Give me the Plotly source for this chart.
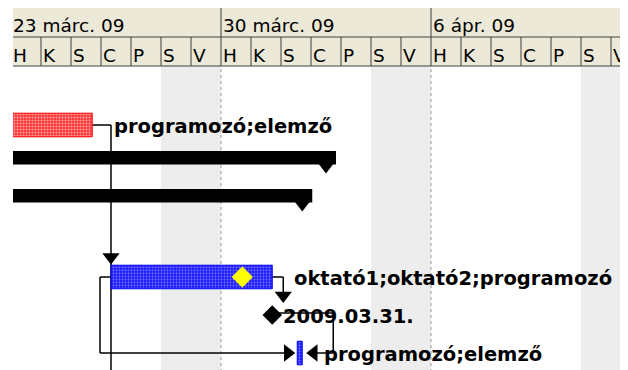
import pandas as pd
import plotly.graph_objects as go

# timescale
week_starts = ["2009-03-23", "2009-03-30", "2009-04-06"]
week_labels = ["23 márc. 09", "30 márc. 09", "6 ápr. 09"]
day_letters = ["H", "K", "S", "C", "P", "S", "V"]

# normal tasks (row 3 is empty)
task_rows = [0, 4, 6]
task_start = ["2009-03-20 08:00", "2009-03-26 08:00", "2009-04-01 13:00"]
task_finish = ["2009-03-25 17:00", "2009-03-31 17:00", "2009-04-01 17:00"]
task_colors = ["red", "blue", "blue"]
task_resources = ["programozó;elemző", "oktató1;oktató2;programozó", "programozó;elemző"]

# summary tasks
summary_rows = [1, 2]
summary_start = ["2009-03-16 08:00", "2009-03-16 08:00"]
summary_finish = ["2009-04-02 12:00", "2009-04-01 17:00"]

# milestone
milestone_row = 5
milestone_date = "2009-03-31 17:00"
milestone_label = "2009.03.31."

# yellow marker on the blue task
flag_row = 4
flag_date = "2009-03-30 17:00"

PX_DAY = 30      # pixels per day on the timescale
ROW_PX = 38      # pixels per table row
ROW0_PX = 125    # page pixel centre of row 0
OFF = 8          # default body margin of the html page
W, H = 628, 370
L, T = 13 - OFF, 0          # plot area starts at page x=13, y=8
PB = H + OFF                # page y of the plot bottom


def paper_y(p):
    return (PB - p) / (H - T)


HDR_MID = paper_y(37)
HDR_BOT = paper_y(66)


def tx(d, px=0):
    return (pd.Timestamp(d) + pd.Timedelta(days=px / PX_DAY)).strftime("%Y-%m-%d %H:%M:%S")


def ry(row, px=0):
    return row + px / ROW_PX


x_start = pd.Timestamp(week_starts[0]) + pd.Timedelta(days=2 / PX_DAY)
x_end = x_start + pd.Timedelta(days=(W - L) / PX_DAY)

fig = go.Figure()
shapes = []
annotations = []

# weekend shading + dotted week lines
days = [pd.Timestamp(w) + pd.Timedelta(days=i) for w in week_starts for i in range(7)]
for i, d in enumerate(days):
    if i % 7 == 5:
        shapes.append(dict(type="rect", xref="x", yref="paper", x0=tx(d), x1=tx(d, 2 * PX_DAY),
                           y0=0, y1=HDR_BOT, fillcolor="#ededed", line=dict(width=0), layer="below"))
for w in week_starts[1:]:
    shapes.append(dict(type="line", xref="x", yref="paper", x0=w, x1=w, y0=0, y1=HDR_BOT,
                       line=dict(color="#9a9a9a", width=1, dash="dot"), layer="below"))


def seg(x0, y0, x1, y1):
    shapes.append(dict(type="line", xref="x", yref="y", x0=x0, y0=y0, x1=x1, y1=y1,
                       line=dict(color="black", width=1.5), layer="below"))


red_end, blue_start, blue_end = task_finish[0], task_start[1], task_finish[1]
small_start, small_end = task_start[2], task_finish[2]

# link red -> blue (FS), line continues down to a task below the view
seg(tx(red_end), 0, tx(blue_start), 0)
seg(tx(blue_start), 0, tx(blue_start), 7)
# link blue -> small (SS)
seg(tx(blue_start), 4, tx(blue_start, -11), 4)
seg(tx(blue_start, -11), 4, tx(blue_start, -11), 6)
seg(tx(blue_start, -11), 6, tx(small_start, -4), 6)
# link blue -> milestone (FS)
seg(tx(blue_end), 4, tx(blue_end, 11), 4)
seg(tx(blue_end, 11), 4, tx(blue_end, 11), ry(5, -16))
# link milestone -> small (FF)
seg(tx(milestone_date), ry(5, -2), tx(small_end, 31), ry(5, -2))
seg(tx(small_end, 31), ry(5, -2), tx(small_end, 31), 6)
seg(tx(small_end, 31), 6, tx(small_end, 8), 6)

# summary bars
s_end = [tx(f, 10) for f in summary_finish]
fig.add_trace(go.Bar(
    y=summary_rows, base=summary_start, orientation="h",
    x=[(pd.Timestamp(e) - pd.Timestamp(s)).total_seconds() * 1000 for s, e in zip(summary_start, s_end)],
    offset=-12 / ROW_PX, width=13.5 / ROW_PX,
    marker=dict(color="black", line=dict(width=0)), hoverinfo="skip"))
fig.add_trace(go.Scatter(
    x=[tx(f) for f in summary_finish], y=[ry(r, 2) for r in summary_rows], mode="markers",
    marker=dict(symbol="triangle-down", size=17, color="black", line=dict(width=0)), hoverinfo="skip"))

# task bars
for color, bg, fg, sol in [("red", "#ff2020", "#ffffff", 0.5), ("blue", "#1010ff", "#c0c0ff", 0.45)]:
    idx = [i for i, c in enumerate(task_colors) if c == color]
    fig.add_trace(go.Bar(
        y=[task_rows[i] for i in idx], base=[task_start[i] for i in idx], orientation="h",
        x=[(pd.Timestamp(task_finish[i]) - pd.Timestamp(task_start[i])).total_seconds() * 1000 for i in idx],
        width=0.62,
        marker=dict(color=bg, line=dict(color=color, width=1),
                    pattern=dict(shape=".", fgcolor=fg, bgcolor=bg, size=3, solidity=sol)),
        hoverinfo="skip"))

# milestone, flag and arrowheads
fig.add_trace(go.Scatter(
    x=[tx(milestone_date)], y=[milestone_row], mode="markers",
    marker=dict(symbol="diamond", size=15, color="black"), hoverinfo="skip"))
fig.add_trace(go.Scatter(
    x=[tx(flag_date)], y=[flag_row], mode="markers",
    marker=dict(symbol="diamond", size=16, color="#ffff00", line=dict(color="#e8e800", width=0.5)),
    hoverinfo="skip"))
fig.add_trace(go.Scatter(
    x=[tx(blue_start), tx(small_start, -9.5), tx(blue_end, 11), tx(small_end, 11.5)],
    y=[ry(4, -20), 6, ry(5, -19.5), 6],
    mode="markers",
    marker=dict(symbol=["triangle-down", "triangle-right", "triangle-down", "triangle-left"],
                size=15, color="black"), hoverinfo="skip"))

# bar labels
lbl_font = dict(family="DejaVu Sans", size=19.5, color="black")
for r, f, t in zip(task_rows, task_finish, task_resources):
    annotations.append(dict(x=tx(f), y=r, xref="x", yref="y", text="<b>" + t + "</b>",
                            showarrow=False, xanchor="left", yanchor="middle",
                            xshift=20, yshift=-1, font=lbl_font))
annotations.append(dict(x=tx(milestone_date), y=milestone_row, xref="x", yref="y",
                        text="<b>" + milestone_label + "</b>", showarrow=False,
                        xanchor="left", yanchor="middle", xshift=9, yshift=-1, font=lbl_font))

# timescale header
shapes.append(dict(type="rect", xref="paper", yref="paper", x0=0, x1=1, y0=HDR_BOT, y1=1,
                   fillcolor="#ece9d8", line=dict(width=0), layer="above"))
for yy in (HDR_MID, HDR_BOT):
    shapes.append(dict(type="line", xref="paper", yref="paper", x0=0, x1=1, y0=yy, y1=yy,
                       line=dict(color="#404040", width=1), layer="above"))
hdr_font = dict(family="DejaVu Sans", size=18.5, color="black")
for i, d in enumerate(days):
    if d > x_start:
        shapes.append(dict(type="line", xref="x", yref="paper", x0=tx(d), x1=tx(d),
                           y0=HDR_BOT, y1=1 if i % 7 == 0 else HDR_MID,
                           line=dict(color="#404040", width=1), layer="above"))
    annotations.append(dict(x=tx(d, 3), y=paper_y(55), xref="x", yref="paper",
                            text=day_letters[i % 7], showarrow=False, xanchor="left",
                            yanchor="middle", xshift=-3, font=hdr_font))
for w, lab in zip(week_starts, week_labels):
    annotations.append(dict(x=tx(w, 3), y=paper_y(25.5), xref="x", yref="paper",
                            text=lab, showarrow=False, xanchor="left", yanchor="middle",
                            xshift=-3, font=hdr_font))

fig.update_layout(
    width=W, height=H,
    margin=dict(l=L, r=0, t=T, b=0),
    plot_bgcolor="white", paper_bgcolor="white",
    showlegend=False, barmode="overlay",
    xaxis=dict(type="date", range=[x_start, x_end], visible=False, fixedrange=True),
    yaxis=dict(range=[(PB - ROW0_PX) / ROW_PX, (OFF - ROW0_PX) / ROW_PX], visible=False, fixedrange=True),
    shapes=shapes, annotations=annotations,
)

fig.write_html("out.html")
